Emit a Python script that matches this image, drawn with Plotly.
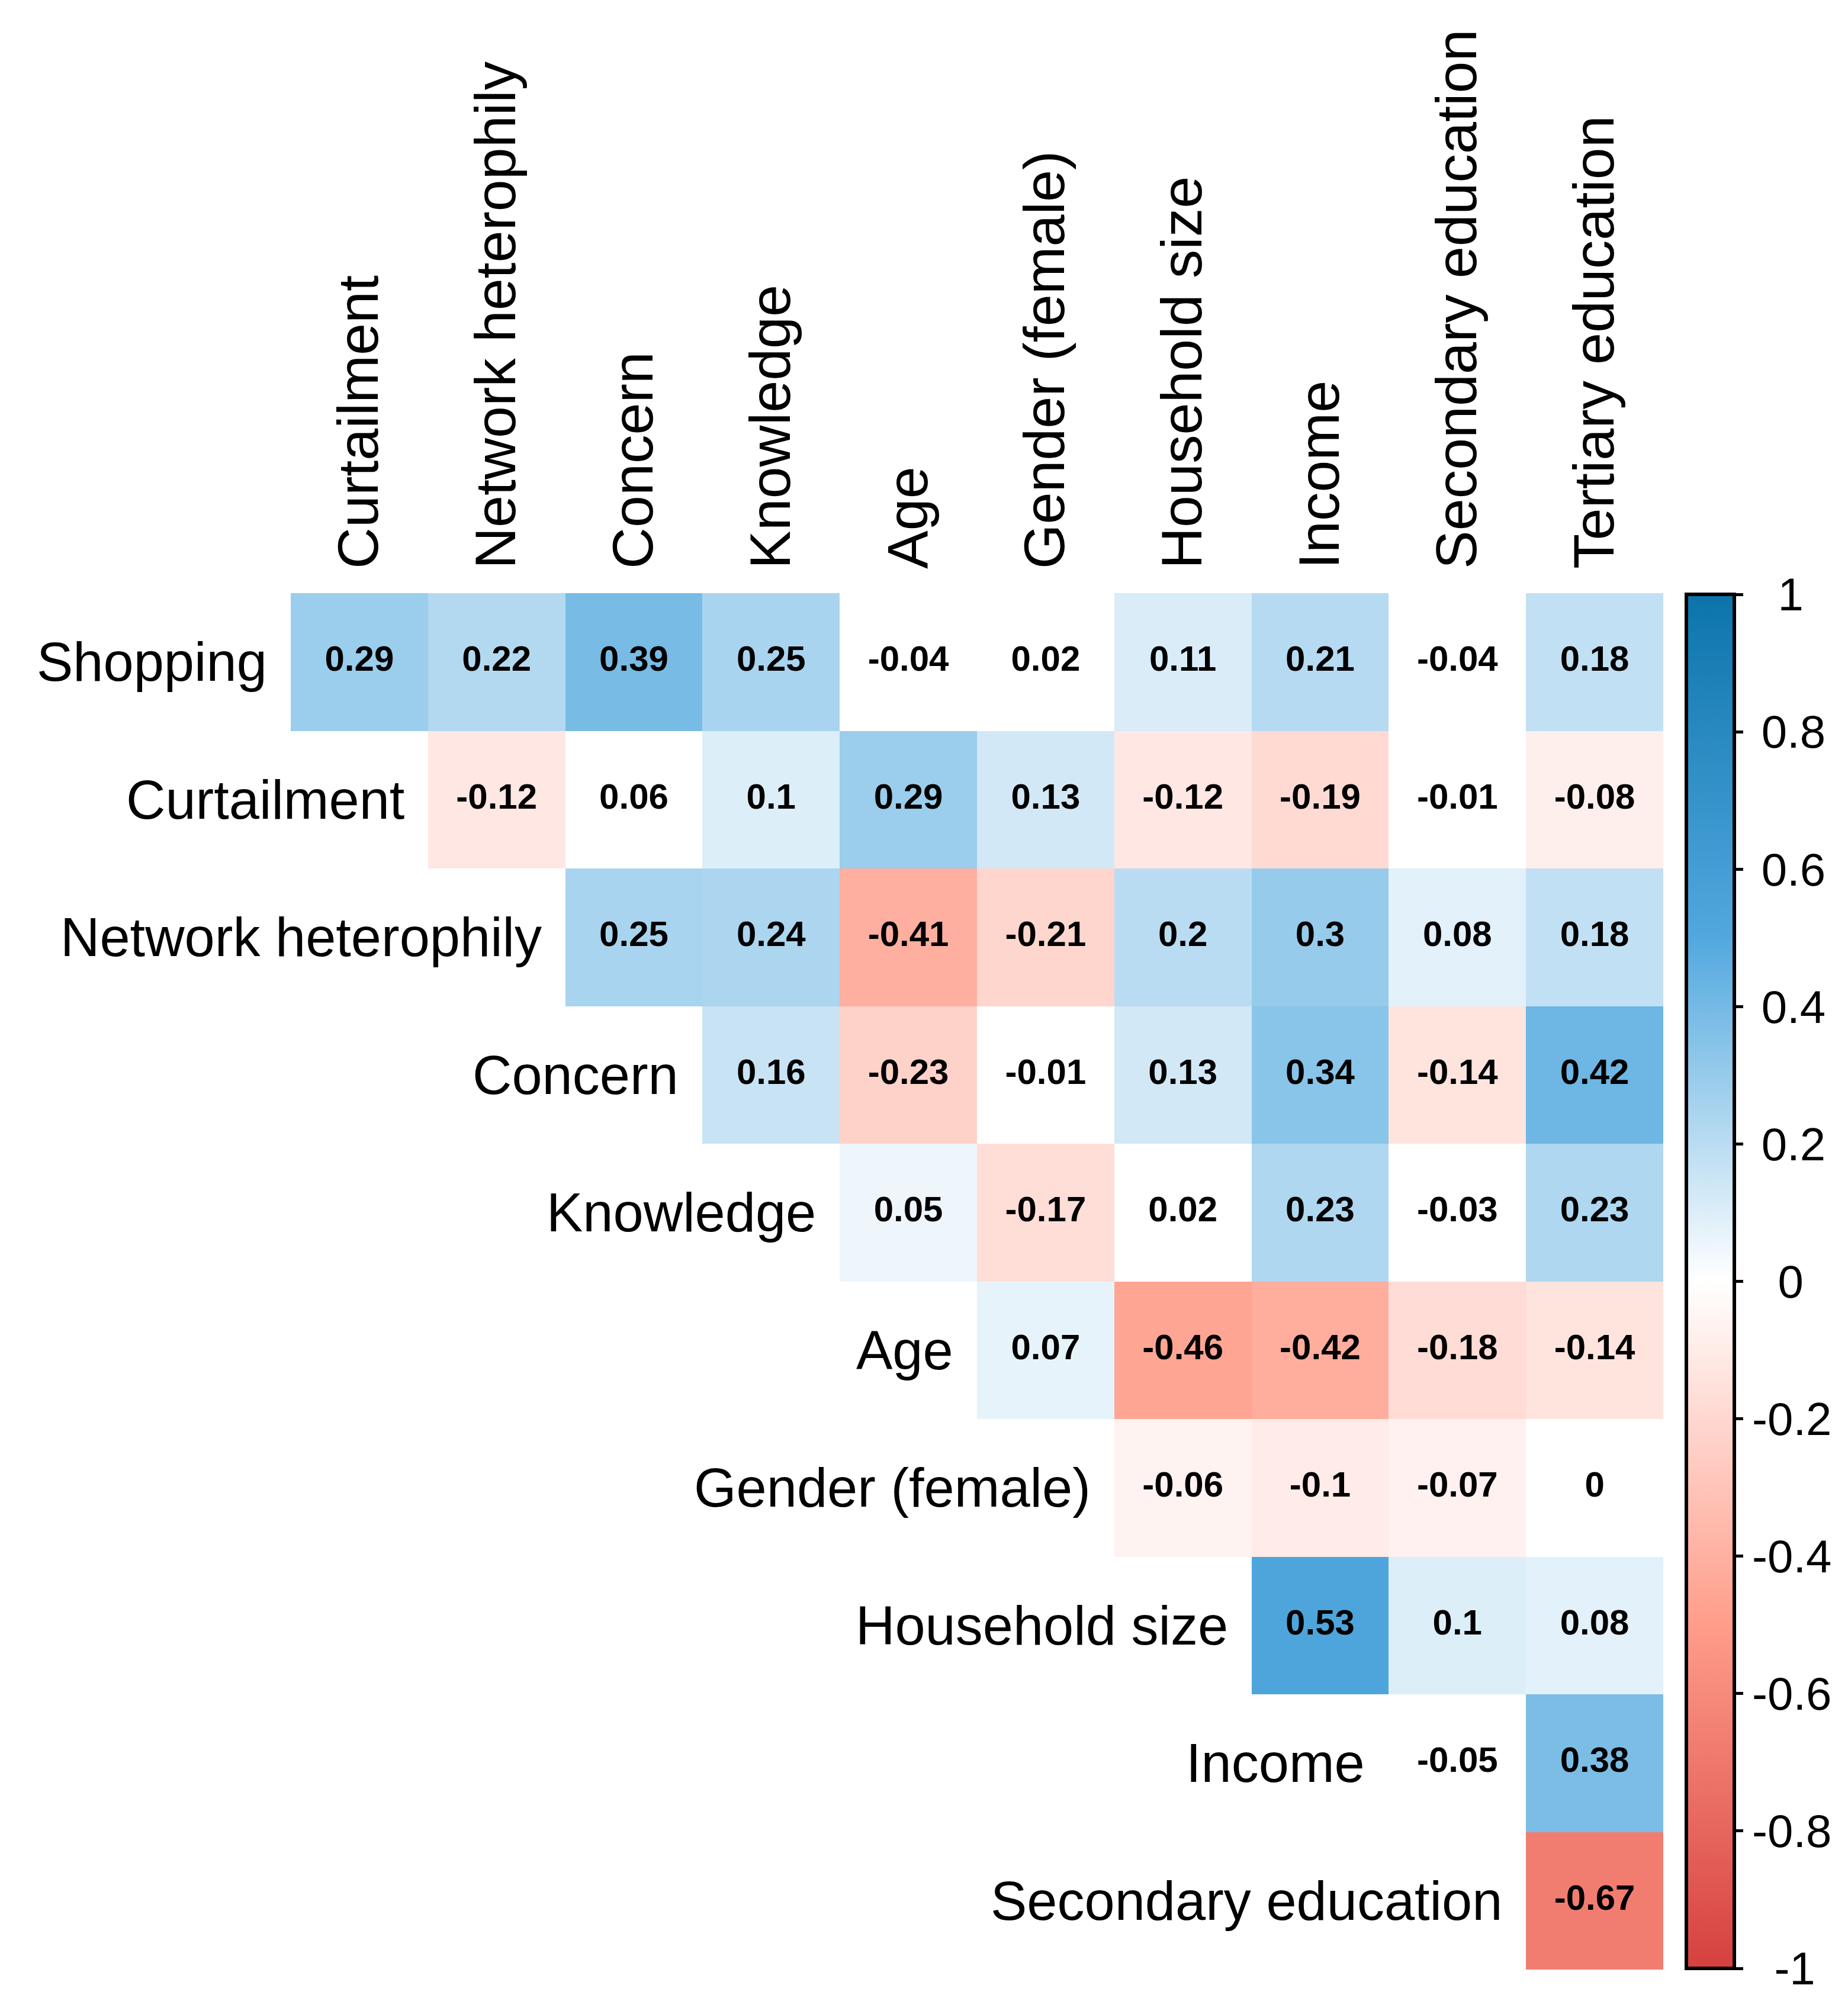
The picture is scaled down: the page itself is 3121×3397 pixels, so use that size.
import plotly.graph_objects as go

rows = ["Shopping", "Curtailment", "Network heterophily", "Concern", "Knowledge",
        "Age", "Gender (female)", "Household size", "Income", "Secondary education"]
cols = ["Curtailment", "Network heterophily", "Concern", "Knowledge", "Age",
        "Gender (female)", "Household size", "Income", "Secondary education", "Tertiary education"]

# upper triangle, row i starts at column i
shopping = [0.29, 0.22, 0.39, 0.25, -0.04, 0.02, 0.11, 0.21, -0.04, 0.18]
curtailment = [-0.12, 0.06, 0.1, 0.29, 0.13, -0.12, -0.19, -0.01, -0.08]
network = [0.25, 0.24, -0.41, -0.21, 0.2, 0.3, 0.08, 0.18]
concern = [0.16, -0.23, -0.01, 0.13, 0.34, -0.14, 0.42]
knowledge = [0.05, -0.17, 0.02, 0.23, -0.03, 0.23]
age = [0.07, -0.46, -0.42, -0.18, -0.14]
gender = [-0.06, -0.1, -0.07, 0]
household = [0.53, 0.1, 0.08]
income = [-0.05, 0.38]
secondary = [-0.67]

# cells left blank (not significant), as (row, column)
blank = [(0, 4), (0, 5), (0, 8), (1, 2), (1, 8), (3, 5), (4, 6), (4, 8), (6, 9), (8, 8)]

cbar_vals = [1, 0.8, 0.6, 0.4, 0.2, 0, -0.2, -0.4, -0.6, -0.8, -1]

values = [shopping, curtailment, network, concern, knowledge, age, gender, household, income, secondary]

z = [[None] * 10 for _ in range(10)]
tx, ty, tt = [], [], []
for i, row in enumerate(values):
    for k, v in enumerate(row):
        j = i + k
        if (i, j) not in blank:
            z[i][j] = v
        tx.append(j)
        ty.append(i)
        tt.append(f"{v:g}")

W, H = 3121, 3397
FONT = "Liberation Sans, Arial"


def pad(s):
    # rough centering of the colorbar labels
    if s.startswith("-0."):
        return s
    if s.startswith("0."):
        return "\u2009" + s
    if s == "-1":
        return "\u00a0\u2009" + s
    return "\u00a0\u00a0" + s


colorscale = [[0, "#D6403F"], [0.25, "#FF9D8A"], [0.5, "#FFFFFF"], [0.75, "#52A8DE"], [1, "#0C74AB"]]

fig = go.Figure()
fig.add_trace(go.Heatmap(
    z=z, x=list(range(10)), y=list(range(10)),
    zmin=-1, zmax=1, colorscale=colorscale, hoverongaps=False,
    colorbar=dict(
        x=2840 / W, xanchor="left", xpad=0,
        y=1 - (996 + 3317) / 2 / H, yanchor="middle", ypad=0,
        len=(3317 - 996) / H, lenmode="fraction",
        thickness=81, outlinewidth=6, outlinecolor="black",
        ticks="outside", ticklen=12, tickwidth=5, tickcolor="black",
        tickvals=cbar_vals, ticktext=[pad(f"{v:g}") for v in cbar_vals],
        tickfont=dict(family=FONT, size=78, color="black"),
    ),
))
fig.add_trace(go.Scatter(
    x=tx, y=ty, text=tt, mode="text", hoverinfo="skip", showlegend=False,
    textfont=dict(family=FONT, size=60, color="black", weight="bold"),
))

# row names sit next to the first cell of each row
for i, name in enumerate(rows):
    fig.add_annotation(x=i - 0.5, y=i, xref="x", yref="y", text=name, showarrow=False,
                       xanchor="right", yanchor="middle", xshift=-38,
                       font=dict(family=FONT, size=92, color="black"))

fig.update_layout(
    width=W, height=H, margin=dict(l=0, r=0, t=0, b=0),
    plot_bgcolor="white", paper_bgcolor="white", showlegend=False,
    xaxis=dict(domain=[483 / W, 2801 / W], range=[-0.5, 9.5], side="top",
               tickvals=list(range(10)), ticktext=cols, tickangle=-90,
               tickfont=dict(family=FONT, size=97, color="black"),
               ticklabelstandoff=40, showgrid=False, zeroline=False, showline=False, ticks=""),
    yaxis=dict(domain=[1 - 3319 / H, 1 - 994 / H], range=[9.5, -0.5],
               showticklabels=False, showgrid=False, zeroline=False, showline=False, ticks=""),
)

fig.write_html("out.html")
